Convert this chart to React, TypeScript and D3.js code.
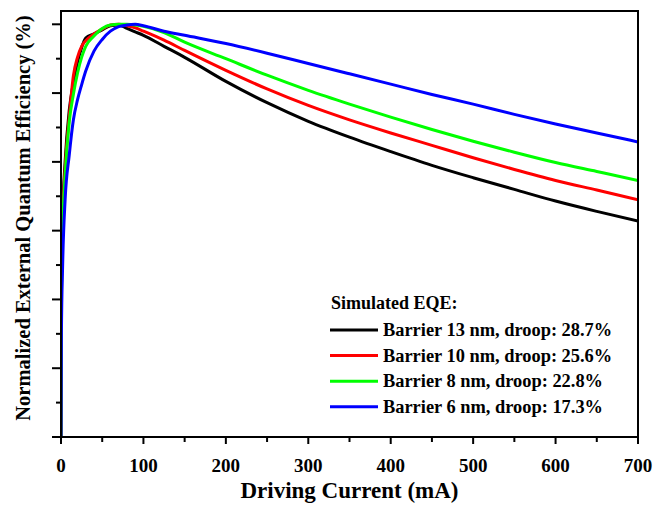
import React, { useEffect, useRef } from 'react';
import * as d3 from 'd3';

// driving current (mA), shared by all series
const currents = [0, 0.5, 2, 5, 10, 15, 20, 25, 30, 40, 50, 60, 70, 80, 90, 100, 125, 150, 200, 250, 300, 350, 400, 450, 500, 550, 600, 650, 700];

const eqe13 = [0.40, 0.62, 0.72, 0.80, 0.875, 0.915, 0.945, 0.966, 0.980, 0.986, 0.992, 0.998, 0.999, 0.994, 0.989, 0.984, 0.968, 0.952, 0.917, 0.886, 0.859, 0.836, 0.815, 0.795, 0.777, 0.760, 0.743, 0.728, 0.714];
const eqe10 = [0.40, 0.61, 0.71, 0.79, 0.865, 0.925, 0.952, 0.968, 0.976, 0.986, 0.993, 0.999, 1.0, 0.998, 0.995, 0.990, 0.977, 0.962, 0.933, 0.906, 0.882, 0.861, 0.842, 0.824, 0.806, 0.789, 0.773, 0.759, 0.745];
const eqe8 = [0.40, 0.60, 0.70, 0.78, 0.858, 0.898, 0.929, 0.952, 0.968, 0.983, 0.994, 0.999, 1.0, 1.0, 0.999, 0.997, 0.988, 0.974, 0.950, 0.926, 0.904, 0.884, 0.865, 0.847, 0.830, 0.814, 0.799, 0.786, 0.773];
const eqe6 = [0.40, 0.55, 0.65, 0.745, 0.810, 0.861, 0.890, 0.912, 0.932, 0.961, 0.978, 0.990, 0.9965, 0.999, 1.0, 0.998, 0.990, 0.984, 0.972, 0.958, 0.943, 0.928, 0.913, 0.898, 0.884, 0.869, 0.855, 0.842, 0.829];

const seriesLabels = [
  'Barrier 13 nm, droop: 28.7%',
  'Barrier 10 nm, droop: 25.6%',
  'Barrier 8 nm, droop: 22.8%',
  'Barrier 6 nm, droop: 17.3%',
];
const seriesColors = ['#000000', '#ff0000', '#00ff00', '#0000ff'];

const xTicks = [0, 100, 200, 300, 400, 500, 600, 700];

const App = () => {
  const ref = useRef<SVGSVGElement>(null);

  useEffect(() => {
    const svg = d3.select(ref.current);
    svg.selectAll('*').remove();

    const left = 61, right = 638, top = 11, bottom = 437;
    const font = '"Liberation Serif", "Times New Roman", serif';

    const x = d3.scaleLinear().domain([0, 700]).range([left, right]);
    const y = d3.scaleLinear().domain([0.4, 1.0]).range([bottom, 24.3]);

    svg.append('defs').append('clipPath').attr('id', 'plot')
      .append('rect').attr('x', left).attr('y', top)
      .attr('width', right - left).attr('height', bottom - top);

    // curves
    const line = d3.line<[number, number]>()
      .x(d => x(d[0]))
      .y(d => y(d[1]))
      .curve(d3.curveMonotoneX);

    [eqe13, eqe10, eqe8, eqe6].forEach((vals, i) => {
      svg.append('path')
        .datum(currents.map((c, j) => [c, vals[j]] as [number, number]))
        .attr('clip-path', 'url(#plot)')
        .attr('fill', 'none')
        .attr('stroke', seriesColors[i])
        .attr('stroke-width', 3)
        .attr('stroke-linejoin', 'round')
        .attr('d', line);
    });

    // frame
    svg.append('rect')
      .attr('x', left).attr('y', top)
      .attr('width', right - left).attr('height', bottom - top)
      .attr('fill', 'none').attr('stroke', '#000').attr('stroke-width', 2);

    // x ticks
    const xAxis = svg.append('g').attr('transform', `translate(0,${bottom})`);
    d3.range(0, 701, 50).forEach(v => {
      xAxis.append('line')
        .attr('x1', x(v)).attr('x2', x(v))
        .attr('y1', 0).attr('y2', v % 100 === 0 ? 7 : 5)
        .attr('stroke', '#000').attr('stroke-width', 2);
    });
    xAxis.selectAll('text').data(xTicks).enter().append('text')
      .attr('x', d => x(d)).attr('y', 35)
      .attr('text-anchor', 'middle')
      .attr('font-family', font).attr('font-weight', 'bold').attr('font-size', 19)
      .text(d => d);

    // y ticks (no labels)
    const yAxis = svg.append('g').attr('transform', `translate(${left},0)`);
    d3.range(0, 13).forEach(i => {
      const v = 0.4 + i * 0.05;
      yAxis.append('line')
        .attr('x1', i % 2 === 0 ? -9 : -5).attr('x2', 0)
        .attr('y1', y(v)).attr('y2', y(v))
        .attr('stroke', '#000').attr('stroke-width', 2);
    });

    // axis titles
    svg.append('text')
      .attr('x', (left + right) / 2).attr('y', 498)
      .attr('text-anchor', 'middle')
      .attr('font-family', font).attr('font-weight', 'bold').attr('font-size', 23)
      .text('Driving Current (mA)');

    svg.append('text')
      .attr('transform', `translate(30,218) rotate(-90)`)
      .attr('text-anchor', 'middle')
      .attr('font-family', font).attr('font-weight', 'bold').attr('font-size', 20.5)
      .text('Normalized External Quantum Efficiency (%)');

    // legend
    const legend = svg.append('g');
    legend.append('text')
      .attr('x', 331).attr('y', 309)
      .attr('font-family', font).attr('font-weight', 'bold').attr('font-size', 18)
      .text('Simulated EQE:');
    seriesLabels.forEach((label, i) => {
      const ly = 330 + i * 25.6;
      legend.append('line')
        .attr('x1', 330).attr('x2', 378).attr('y1', ly).attr('y2', ly)
        .attr('stroke', seriesColors[i]).attr('stroke-width', 3);
      legend.append('text')
        .attr('x', 383).attr('y', ly + 6)
        .attr('font-family', font).attr('font-weight', 'bold').attr('font-size', 18.4)
        .text(label);
    });
  }, []);

  return (
    <svg ref={ref} width={655} height={508}
      style={{ position: 'absolute', left: 0, top: 0, background: '#fff' }} />
  );
};

export default App;
